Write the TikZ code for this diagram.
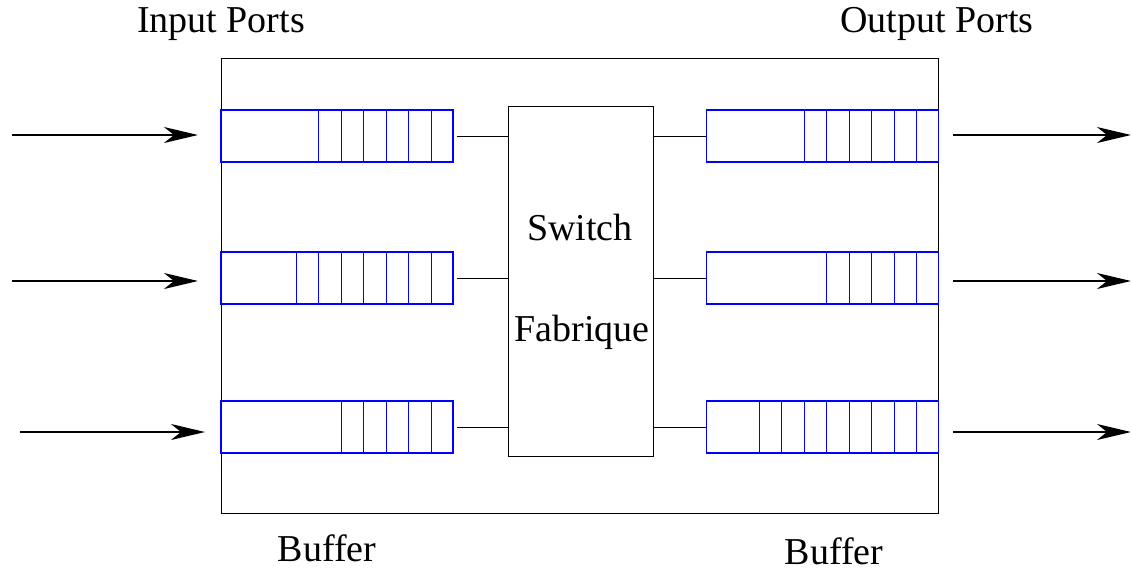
\documentclass[tikz,border=0pt]{standalone}
\usepackage{fontspec}
\setmainfont{Liberation Serif}
\usetikzlibrary{arrows.meta,calc}

\tikzset{
  queue/.style={rectangle, draw=blue, line width=0.6pt, inner sep=0pt, minimum width=116pt, minimum height=26pt},
  port/.style={-{Stealth[length=17pt,width=8pt,inset=5pt]}, line width=0.8pt},
  link/.style={line width=0.5pt}
}

\begin{document}
\begin{tikzpicture}[x=0.5pt,y=-0.5pt, every node/.style={font=\fontsize{19}{23}\selectfont}]
		\useasboundingbox (0,0) rectangle (1131,570);
		\path (579.5,285.5) node[rectangle, draw, line width=0.5pt, inner sep=0pt, minimum width=358.5pt, minimum height=227.5pt] (frame) {}
  		(580.5,281) node[rectangle, draw, line width=0.5pt, inner sep=0pt, minimum width=72.5pt, minimum height=175pt] (switch) {}
  		(337,136) node[queue] (in1) {}
  		(337,278) node[queue] (in2) {}
  		(337,427) node[queue] (in3) {}
  		(822.5,136) node[queue] (out1) {}
  		(822.5,278) node[queue] (out2) {}
  		(822.5,427) node[queue] (out3) {};

		% packets waiting in each buffer
		\foreach \q/\n in {in1/6, in2/7, in3/5, out1/6, out2/5, out3/8}
			\foreach \i in {1,...,\n}
				\draw[blue, line width=0.6pt] ($(\q.north east)+(-\i*22.5,0)$) -- ($(\q.south east)+(-\i*22.5,0)$);

		\path (580,227) node (sw) {Switch}
  		(582,332) node (fab) {Fabrique}
  		(221,24) node (inlabel) {Input Ports}
  		(937,24) node (outlabel) {Output Ports}
  		(327,548) node (inbuf) {Buffer}
  		(834,551) node[inner sep=1pt] (outbuf) {Buffer};

		\draw[link] (in1.east) ++(3,0) -- (in1.east -| switch.west);
		\draw[link] (in2.east) ++(3,0) -- (in2.east -| switch.west);
		\draw[link] (in3.east) ++(3,0) -- (in3.east -| switch.west);
		\draw[link] (out1.west -| switch.east) -- (out1.west);
		\draw[link] (out2.west -| switch.east) -- (out2.west);
		\draw[link] (out3.west -| switch.east) -- (out3.west);

		% incoming and outgoing traffic
		\coordinate (a1) at (12,135);   \coordinate (b1) at (198,135);
		\coordinate (a2) at (12,281);   \coordinate (b2) at (198,281);
		\coordinate (a3) at (20,432);   \coordinate (b3) at (205,432);
		\coordinate (c1) at (953,135);  \coordinate (d1) at (1131,135);
		\coordinate (c2) at (953,281);  \coordinate (d2) at (1131,281);
		\coordinate (c3) at (953,432);  \coordinate (d3) at (1131,432);
		\draw[port] (a1) -- (b1);
		\draw[port] (a2) -- (b2);
		\draw[port] (a3) -- (b3);
		\draw[port] (c1) -- (d1);
		\draw[port] (c2) -- (d2);
		\draw[port] (c3) -- (d3);
	\end{tikzpicture}
\end{document}
